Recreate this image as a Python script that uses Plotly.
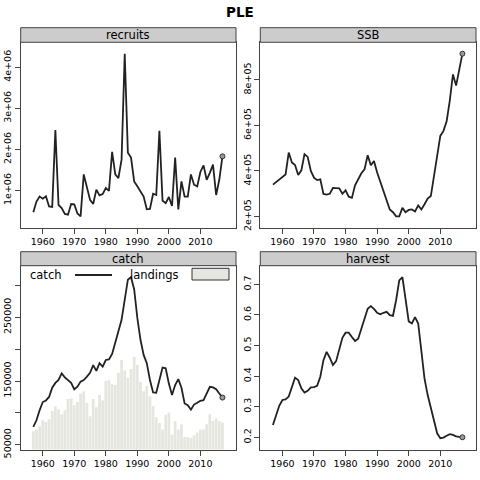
import plotly.graph_objects as go

years = list(range(1957, 2018))

recruits = [0.47, 0.73, 0.85, 0.80, 0.86, 0.61, 0.60, 2.47, 0.65, 0.57,
            0.43, 0.41, 0.67, 0.66, 0.44, 0.37, 1.39, 1.06, 0.77, 0.67,
            1.02, 0.88, 0.91, 1.06, 0.99, 1.94, 1.39, 1.30, 1.75, 4.33,
            1.92, 1.80, 1.22, 1.10, 0.98, 0.85, 0.54, 0.55, 0.92, 0.89,
            2.45, 0.75, 0.69, 0.84, 0.62, 1.80, 0.54, 1.22, 0.85, 0.85,
            1.39, 1.14, 1.10, 1.45, 1.61, 1.26, 1.43, 1.63, 0.89, 1.26,
            1.83]
recruits = [v * 1e6 for v in recruits]

ssb = [3.40, 3.51, 3.59, 3.71, 3.85, 4.81, 4.37, 4.26, 3.82, 4.03,
       4.74, 4.62, 4.00, 3.71, 3.60, 3.63, 2.99, 2.96, 3.00, 3.26,
       3.26, 3.24, 3.00, 3.15, 2.87, 2.82, 3.37, 3.63, 3.90, 4.07,
       4.69, 4.25, 4.44, 3.93, 3.51, 3.07, 2.72, 2.31, 2.19, 2.01,
       2.01, 2.38, 2.19, 2.29, 2.31, 2.22, 2.49, 2.31, 2.54, 2.79,
       2.90, 3.85, 4.66, 5.54, 5.76, 6.18, 7.09, 8.24, 7.75, 8.41,
       9.15]
ssb = [v * 1e5 for v in ssb]

catch = [77.9, 88.4, 104, 117, 119.5, 125, 139.5, 147, 151.6, 162,
         155.8, 151.6, 147, 137, 141, 149, 151.6, 157, 163, 175,
         166, 178, 172.6, 183, 184, 192.6, 212, 228, 246, 278,
         309, 313, 293.7, 249, 214.7, 191, 178, 151.6, 132, 131.6,
         151.6, 171, 170, 146, 128, 143.7, 153, 139.5, 114.7, 112,
         105, 113, 115.8, 119, 120, 129.5, 141, 140, 137, 130.5,
         124]
catch = [v * 1000 for v in catch]

landings = [71, 73.7, 79, 88.4, 85.8, 90, 103, 110.5, 105.8, 97.9,
            104, 121.6, 122.6, 112, 117, 130.5, 134, 115.8, 94.7, 121.6,
            109, 128, 120, 150, 151.6, 145, 143.7, 163, 183, 167,
            155, 169, 188, 175, 149, 134, 142, 126, 110.5, 93,
            84, 74, 97, 100.5, 66, 87, 73.7, 82, 62, 61.6,
            60.5, 64.7, 69, 74, 74, 82, 97.9, 87.4, 91, 87.4,
            84.7]
landings = [v * 1000 for v in landings]

harvest = [0.240, 0.273, 0.303, 0.322, 0.324, 0.333, 0.365, 0.395, 0.387, 0.360,
           0.346, 0.352, 0.363, 0.364, 0.368, 0.398, 0.452, 0.479, 0.460, 0.436,
           0.449, 0.488, 0.525, 0.542, 0.542, 0.528, 0.515, 0.522, 0.553, 0.590,
           0.620, 0.629, 0.620, 0.607, 0.602, 0.607, 0.610, 0.599, 0.597, 0.648,
           0.713, 0.724, 0.648, 0.579, 0.572, 0.593, 0.572, 0.479, 0.392, 0.338,
           0.295, 0.253, 0.213, 0.197, 0.199, 0.205, 0.210, 0.208, 0.203, 0.201,
           0.200]

year_ticks = [1960, 1970, 1980, 1990, 2000, 2010]
rec_ticks = [1e6, 2e6, 3e6, 4e6]
rec_labels = ["1e+06", "2e+06", "3e+06", "4e+06"]
ssb_ticks = [2e5, 4e5, 6e5, 8e5]
ssb_labels = ["2e+05", "4e+05", "6e+05", "8e+05"]
catch_ticks = [50000, 100000, 150000, 200000, 250000, 300000]
catch_labels = ["50000", "", "150000", "", "250000", ""]
harv_ticks = [0.2, 0.3, 0.4, 0.5, 0.6, 0.7]
harv_labels = ["0.2", "0.3", "0.4", "0.5", "0.6", "0.7"]

W = H = 480.0
FONT = "DejaVu Sans"
LINE = "#222222"
AXC = "#444444"


def px(x):
    return x / W


def py(y):
    return 1 - y / H


# panel boxes in pixels: (left, right, top, bottom, strip_top)
panels = [
    (20.7, 236.0, 42.3, 227.7, 27.7),
    (260.3, 476.0, 42.3, 227.7, 27.7),
    (20.7, 236.0, 265.7, 449.5, 251.7),
    (260.3, 476.0, 265.7, 449.5, 251.7),
]
names = ["recruits", "SSB", "catch", "harvest"]

fig = go.Figure()

fig.add_trace(go.Bar(x=years, y=landings, marker=dict(color="#e6e6e0", line=dict(width=0)),
                     xaxis="x3", yaxis="y3", showlegend=False))

series = [recruits, ssb, catch, harvest]
for i, s in enumerate(series):
    ax = "" if i == 0 else str(i + 1)
    fig.add_trace(go.Scatter(x=years, y=s, mode="lines", line=dict(color=LINE, width=1.8),
                             xaxis="x" + ax, yaxis="y" + ax, showlegend=False))
    fig.add_trace(go.Scatter(x=[years[-1]], y=[s[-1]], mode="markers",
                             marker=dict(size=5, color="#999999", line=dict(color="#333333", width=1)),
                             xaxis="x" + ax, yaxis="y" + ax, showlegend=False))

yranges = [
    [0.093e6, 4.607e6],
    [1.51e5, 9.65e5],
    [42500, 331000],
    [0.160, 0.761],
]
yticks = [(rec_ticks, rec_labels), (ssb_ticks, ssb_labels),
          (catch_ticks, catch_labels), (harv_ticks, harv_labels)]

layout = dict(
    template="none",
    width=480, height=480,
    margin=dict(l=0, r=0, t=0, b=0),
    paper_bgcolor="white", plot_bgcolor="white",
    bargap=0.12,
    font=dict(family=FONT, size=9, color="black"),
)
shapes = []
annotations = []
for i, (l, r, t, b, st) in enumerate(panels):
    ax = "" if i == 0 else str(i + 1)
    layout["xaxis" + ax] = dict(
        domain=[px(l), px(r)], anchor="y" + ax, range=[1953.0, 2021.3],
        tickvals=year_ticks, ticks="outside", ticklen=5, tickcolor=AXC,
        showline=True, mirror=True, linecolor=AXC, linewidth=1, automargin=False,
        showgrid=False, zeroline=False, tickfont=dict(size=9.5),
    )
    tv, tt = yticks[i]
    layout["yaxis" + ax] = dict(
        domain=[py(b), py(t)], anchor="x" + ax, range=yranges[i],
        tickvals=tv, ticktext=tt, ticks="outside", ticklen=5, tickcolor=AXC,
        tickangle=-90, showline=True, mirror=True, linecolor=AXC, linewidth=1,
        automargin=False, showgrid=False, zeroline=False, tickfont=dict(size=9.5),
    )
    shapes.append(dict(type="rect", xref="paper", yref="paper",
                       x0=px(l), x1=px(r), y0=py(t), y1=py(st),
                       fillcolor="#cccccc", line=dict(color=AXC, width=1)))
    annotations.append(dict(text=names[i], xref="paper", yref="paper",
                            x=px((l + r) / 2), y=py((t + st) / 2), showarrow=False,
                            xanchor="center", yanchor="middle",
                            font=dict(size=11.5, family=FONT, color="black")))

# legend inside catch panel
annotations.append(dict(text="catch", xref="paper", yref="paper", x=px(28), y=py(274.5),
                        xanchor="left", yanchor="middle", showarrow=False,
                        font=dict(size=11.5, family=FONT)))
shapes.append(dict(type="line", xref="paper", yref="paper", x0=px(75), x1=px(112),
                   y0=py(275), y1=py(275), line=dict(color=LINE, width=1.8)))
annotations.append(dict(text="landings", xref="paper", yref="paper", x=px(127.5), y=py(274.5),
                        xanchor="left", yanchor="middle", showarrow=False,
                        font=dict(size=11.5, family=FONT)))
shapes.append(dict(type="rect", xref="paper", yref="paper", x0=px(192), x1=px(229),
                   y0=py(280), y1=py(268.3), fillcolor="#e6e6e0",
                   line=dict(color="#333333", width=1)))

annotations.append(dict(text="<b>PLE</b>", xref="paper", yref="paper", x=0.5, y=py(12),
                        xanchor="center", yanchor="middle", showarrow=False,
                        font=dict(size=13.5, family=FONT, color="black")))

layout["shapes"] = shapes
layout["annotations"] = annotations
fig.update_layout(**layout)

# drop the default page margin so the 480x480 figure fills the window
fig.write_html("out.html", config={"displayModeBar": False},
               post_script="document.body.style.margin='0';document.body.style.overflow='hidden';")
